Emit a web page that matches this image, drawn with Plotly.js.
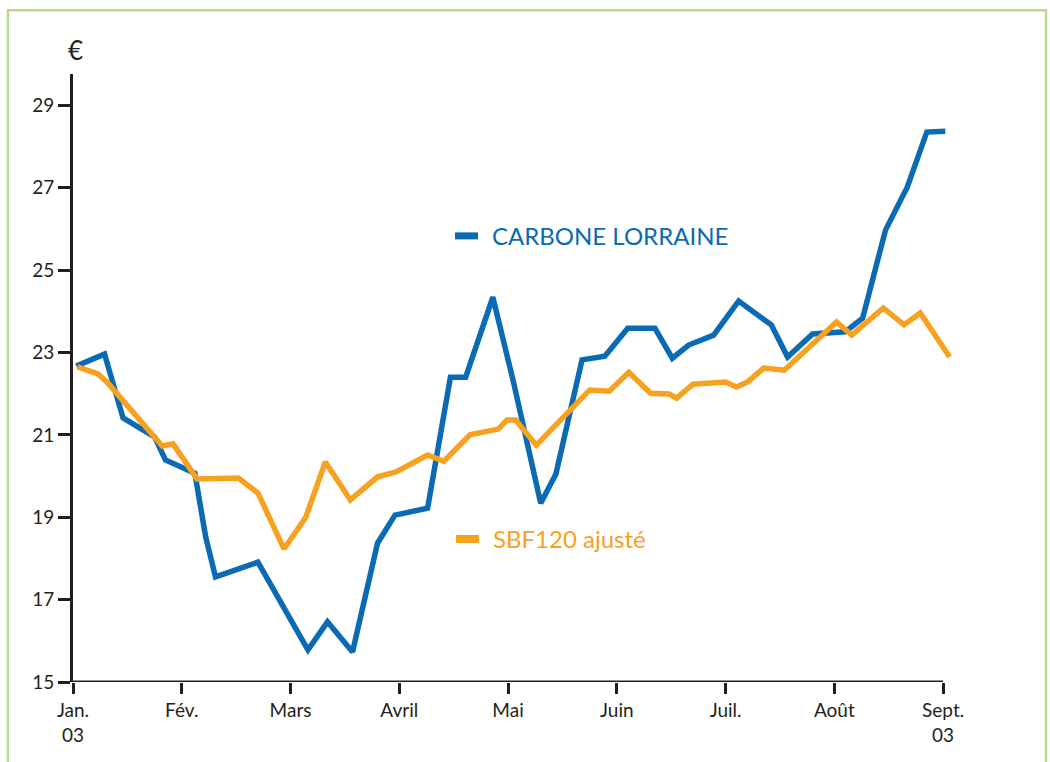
<!DOCTYPE html>
<html>
<head>
<meta charset="utf-8">
<script src="https://cdn.plot.ly/plotly-3.0.1.min.js"></script>
<style>
  html, body { margin: 0; padding: 0; background: #ffffff; }
  #chart { width: 1050px; height: 762px; }
</style>
</head>
<body>
<div id="chart"></div>
<script>
// Month axis: 0 = Jan. 03 ... 8 = Sept. 03 (x values are positions in months)
const monthTicks = [0, 1, 2, 3, 4, 5, 6, 7, 8];
const monthLabels = ["Jan.<br>03", "Fév.", "Mars", "Avril", "Mai", "Juin", "Juil.", "Août", "Sept.<br>03"];
const yTicks = [15, 17, 19, 21, 23, 25, 27, 29];

const carboneX = [0.03, 0.29, 0.46, 0.75, 0.85, 1.12, 1.22, 1.31, 1.70, 2.16, 2.34, 2.57, 2.80, 2.96, 3.26, 3.47, 3.61, 3.86, 4.05, 4.30, 4.44, 4.68, 4.89, 5.10, 5.35, 5.51, 5.66, 5.89, 6.12, 6.42, 6.57, 6.80, 7.10, 7.26, 7.47, 7.67, 7.85, 8.02];
const carboneY = [22.67, 22.96, 21.41, 20.95, 20.39, 20.07, 18.52, 17.55, 17.91, 15.78, 16.46, 15.73, 18.37, 19.05, 19.22, 22.40, 22.40, 24.34, 22.28, 19.34, 20.05, 22.82, 22.91, 23.59, 23.59, 22.86, 23.18, 23.42, 24.25, 23.67, 22.89, 23.45, 23.50, 23.83, 25.97, 27.01, 28.35, 28.37];

const sbfX = [0.04, 0.23, 0.32, 0.68, 0.82, 0.92, 1.14, 1.52, 1.70, 1.94, 2.14, 2.32, 2.55, 2.80, 2.97, 3.26, 3.41, 3.65, 3.91, 3.99, 4.07, 4.26, 4.75, 4.93, 5.11, 5.31, 5.48, 5.55, 5.70, 6.00, 6.10, 6.20, 6.35, 6.54, 7.02, 7.16, 7.45, 7.64, 7.79, 8.06];
const sbfY = [22.65, 22.48, 22.26, 21.19, 20.73, 20.78, 19.93, 19.95, 19.59, 18.23, 19.00, 20.34, 19.42, 19.98, 20.10, 20.51, 20.36, 21.00, 21.14, 21.36, 21.36, 20.75, 22.09, 22.06, 22.52, 22.01, 21.99, 21.89, 22.23, 22.28, 22.16, 22.28, 22.62, 22.57, 23.74, 23.42, 24.08, 23.67, 23.96, 22.89];

const seriesNames = ["CARBONE LORRAINE", "SBF120 ajusté"];
const BLUE = "#0a6ab4";
const ORANGE = "#f7a120";
const AXIS = "#231f20";
const FONT = "Lato, 'Open Sans', sans-serif";

const traces = [
  { x: carboneX, y: carboneY, type: "scatter", mode: "lines", name: seriesNames[0],
    line: { color: BLUE, width: 5.5, shape: "linear" }, hoverinfo: "skip" },
  { x: sbfX, y: sbfY, type: "scatter", mode: "lines", name: seriesNames[1],
    line: { color: ORANGE, width: 5.5, shape: "linear" }, hoverinfo: "skip" }
];

const layout = {
  width: 1050, height: 762,
  margin: { l: 73, r: 96, t: 74, b: 80 },
  paper_bgcolor: "#ffffff", plot_bgcolor: "#ffffff",
  showlegend: false,
  font: { family: FONT, color: AXIS, size: 19 },
  xaxis: {
    range: [0, 8.1], tickmode: "array", tickvals: monthTicks, ticktext: monthLabels,
    showgrid: false, zeroline: false, showline: false,
    ticks: "outside", ticklen: 11, tickwidth: 3, tickcolor: AXIS,
    tickfont: { family: FONT, size: 19, color: AXIS }, fixedrange: true
  },
  yaxis: {
    range: [15, 29.76], tickmode: "array", tickvals: yTicks,
    showgrid: false, zeroline: false, showline: true, linecolor: AXIS, linewidth: 3,
    ticks: "outside", ticklen: 12, tickwidth: 3, tickcolor: AXIS,
    tickfont: { family: FONT, size: 19, color: AXIS }, fixedrange: true
  },
  shapes: [
    // x axis line from Jan. to Sept.
    { type: "line", xref: "x", yref: "y", x0: 0, x1: 8, y0: 15, y1: 15,
      line: { color: AXIS, width: 3 }, layer: "above" },
    // outer light green frame
    { type: "rect", xref: "paper", yref: "paper", x0: -0.0738, x1: 1.1044, y0: -0.145, y1: 1.105,
      line: { color: "#b8db8c", width: 2.5 }, fillcolor: "rgba(0,0,0,0)", layer: "below" },
    // legend swatches
    { type: "rect", xref: "paper", yref: "paper", x0: 0.4336, x1: 0.4597, y0: 0.728, y1: 0.7395,
      line: { width: 0 }, fillcolor: BLUE },
    { type: "rect", xref: "paper", yref: "paper", x0: 0.4347, x1: 0.4608, y0: 0.2286, y1: 0.2418,
      line: { width: 0 }, fillcolor: ORANGE }
  ],
  annotations: [
    { text: "€", xref: "paper", yref: "paper", x: 0.003, y: 1.04, xanchor: "center", yanchor: "middle",
      showarrow: false, font: { family: FONT, size: 26, color: AXIS } },
    { text: seriesNames[0], xref: "paper", yref: "paper", x: 0.4733, y: 0.7345, xanchor: "left", yanchor: "middle",
      showarrow: false, font: { family: FONT, size: 24, color: BLUE } },
    { text: seriesNames[1], xref: "paper", yref: "paper", x: 0.4745, y: 0.2352, xanchor: "left", yanchor: "middle",
      showarrow: false, font: { family: FONT, size: 24, color: ORANGE } }
  ]
};

Plotly.newPlot("chart", traces, layout, { displayModeBar: false, staticPlot: true });
</script>
</body>
</html>
